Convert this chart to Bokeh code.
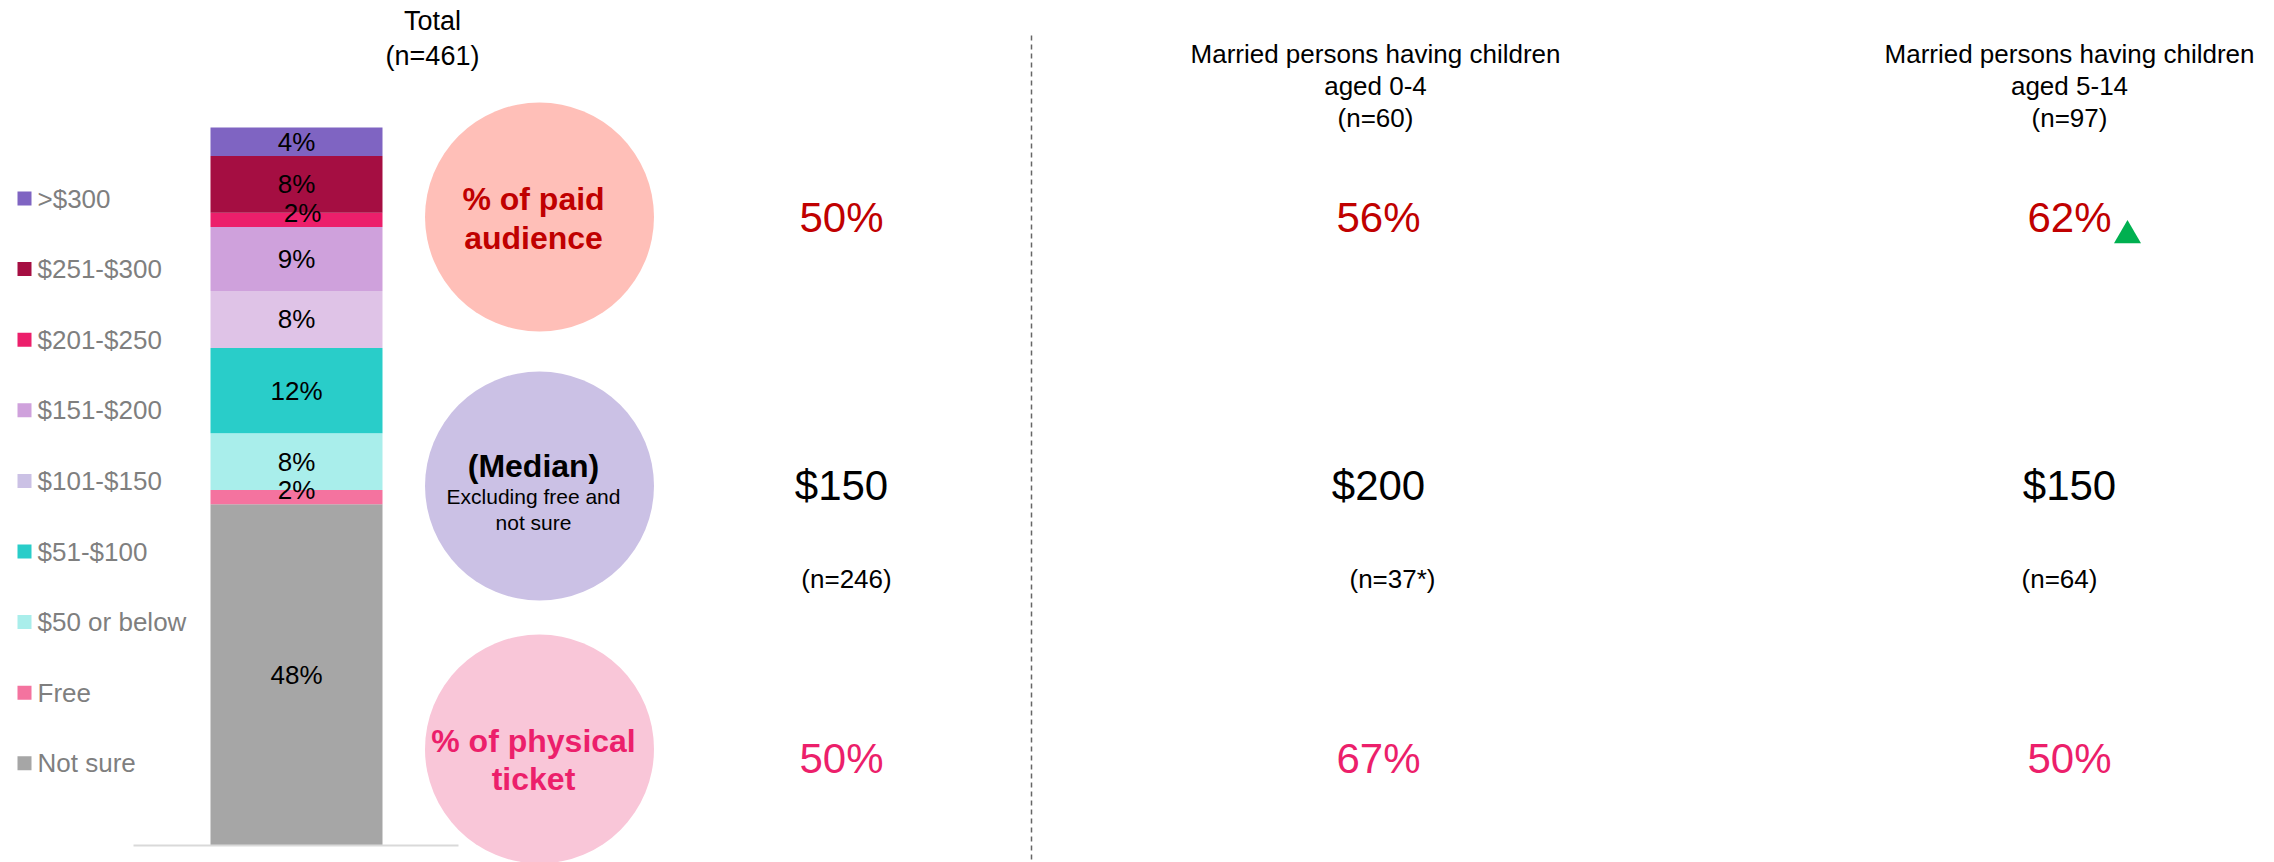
import numpy as np
from bokeh.plotting import figure
from bokeh.models import Range1d, ColumnDataSource
from bokeh.core.properties import value
from bokeh.embed import file_html
from bokeh.resources import INLINE

# ---------------- data ----------------
categories = ["Not sure", "Free", "$50 or below", "$51-$100", "$101-$150",
              "$151-$200", "$201-$250", "$251-$300", ">$300"]
total_pct = [48, 2, 8, 12, 8, 9, 2, 8, 4]
seg_colors = ["#A6A6A6", "#F4739F", "#A9EEEB", "#29CDC9", "#DFC3E7",
              "#CFA1DC", "#EC1F6B", "#A50E42", "#7F64C2"]
legend_colors = ["#A6A6A6", "#F4739F", "#A9EEEB", "#29CDC9", "#CBC1E5",
                 "#CFA1DC", "#EC1F6B", "#A50E42", "#7F64C2"]

group_titles = [["Total"],
                ["Married persons having children", "aged 0-4"],
                ["Married persons having children", "aged 5-14"]]
group_n = ["(n=461)", "(n=60)", "(n=97)"]
paid_pct = [50, 56, 62]
median_price = [150, 200, 150]
median_n = ["(n=246)", "(n=37*)", "(n=64)"]
physical_pct = [50, 67, 50]
significant_up = [False, False, True]

bubble_lines = [["% of paid", "audience"],
                ["(Median)", "Excluding free and", "not sure"],
                ["% of physical", "ticket"]]

# ---------------- layout ----------------
W, H = 2274, 862
ORIGIN = 0                                   # page offset of the canvas
FONT = value("Liberation Sans")
BAR_BOTTOM, BAR_TOP = 845.0, 127.0          # page pixels
k = (BAR_BOTTOM - BAR_TOP) / sum(total_pct)  # px per percent


def py(page_y):
    return (BAR_BOTTOM - page_y) / k


p = figure(width=W, height=H, output_backend="svg", toolbar_location=None,
           x_axis_location=None, y_axis_location=None, min_border=0,
           x_range=Range1d(ORIGIN, ORIGIN + W), y_range=Range1d(py(ORIGIN + H), py(ORIGIN)))
p.outline_line_color = None
p.xgrid.visible = False
p.ygrid.visible = False
p.background_fill_color = "white"

BAR_X, BAR_W = 296, 172

# stacked bar
src = ColumnDataSource({"x": [BAR_X], **{c: [v] for c, v in zip(categories, total_pct)}})
p.vbar_stack(categories, x="x", width=BAR_W, color=seg_colors, line_color=None, source=src)

# baseline
p.segment(x0=[133], x1=[458], y0=[0], y1=[0], line_color="#D9D9D9", line_width=2)

# bar labels
vals = np.array(total_pct, dtype=float)
centers = np.cumsum(vals) - vals / 2
lab_x = [BAR_X + (6 if (v <= 2 and i > 3) else 0) for i, v in enumerate(total_pct)]
lab_y = [c + (1.0 if v <= 2 else 0) for c, v in zip(centers, total_pct)]
p.text(x=lab_x, y=lab_y, text=[f"{v}%" for v in total_pct], text_font=FONT,
       text_font_size="26px", text_align="center", text_baseline="middle",
       text_color="black")

# legend (top to bottom: reversed order)
leg_cats = categories[::-1]
leg_cols = legend_colors[::-1]
leg_y = [py(198 + i * 70.6) for i in range(len(leg_cats))]
p.scatter(x=[24] * len(leg_cats), y=leg_y, marker="square", size=14,
          fill_color=leg_cols, line_color=None)
p.text(x=[37] * len(leg_cats), y=leg_y, text=leg_cats, text_font=FONT,
       text_font_size="26px", text_align="left", text_baseline="middle",
       text_color="#7F7F7F")

# bubbles
BUB_X = 539
bub_y = [216.5, 485.5, 748.5]
bub_fill = ["#FFBFB8", "#CBC1E5", "#F9C6D8"]
p.scatter(x=[BUB_X] * 3, y=[py(v) for v in bub_y], marker="circle", size=229,
          fill_color=bub_fill, line_color=None)

TXT_X = 533
p.text(x=[TXT_X] * 2, y=[py(198), py(237)], text=bubble_lines[0], text_font=FONT,
       text_font_size="32px", text_font_style="bold", text_align="center",
       text_baseline="middle", text_color="#C00000")
p.text(x=[TXT_X], y=[py(465)], text=bubble_lines[1][:1], text_font=FONT,
       text_font_size="32px", text_font_style="bold", text_align="center",
       text_baseline="middle", text_color="black")
p.text(x=[TXT_X] * 2, y=[py(496), py(522)], text=bubble_lines[1][1:], text_font=FONT,
       text_font_size="21px", text_align="center", text_baseline="middle",
       text_color="black")
p.text(x=[TXT_X] * 2, y=[py(740), py(778)], text=bubble_lines[2], text_font=FONT,
       text_font_size="32px", text_font_style="bold", text_align="center",
       text_baseline="middle", text_color="#EC1F6B")

# headers
head_x = [432, 1375, 2069]
for hx, lines, n in zip(head_x, group_titles, group_n):
    if len(lines) == 1:
        ys = [20, 55]
        size = "27px"
    else:
        ys = [53, 85, 117]
        size = "26px"
    p.text(x=[hx] * len(ys), y=[py(v) for v in ys], text=lines + [n], text_font=FONT,
           text_font_size=size, text_align="center", text_baseline="middle",
           text_color="black")

# values per column
col_x = [841, 1378, 2069]
n_x = [846, 1392, 2059]
p.text(x=col_x, y=[py(217)] * 3, text=[f"{v}%" for v in paid_pct], text_font=FONT,
       text_font_size="42px", text_align="center", text_baseline="middle",
       text_color="#C00000")
p.text(x=col_x, y=[py(485)] * 3, text=[f"${v}" for v in median_price], text_font=FONT,
       text_font_size="42px", text_align="center", text_baseline="middle",
       text_color="black")
p.text(x=n_x, y=[py(578)] * 3, text=median_n, text_font=FONT,
       text_font_size="26px", text_align="center", text_baseline="middle",
       text_color="black")
p.text(x=col_x, y=[py(758)] * 3, text=[f"{v}%" for v in physical_pct], text_font=FONT,
       text_font_size="42px", text_align="center", text_baseline="middle",
       text_color="#EC1F6B")

# significance marker
tri_x = [cx + 58 for cx, s in zip(col_x, significant_up) if s]
p.scatter(x=tri_x, y=[py(235)] * len(tri_x), marker="triangle", size=27,
          fill_color="#00B050", line_color=None)

# divider
p.segment(x0=[1031], x1=[1031], y0=[py(35)], y1=[py(ORIGIN + H)], line_color="#666666",
          line_width=1.5, line_dash="5 4")

open("out.html", "w").write(file_html(p, INLINE))
